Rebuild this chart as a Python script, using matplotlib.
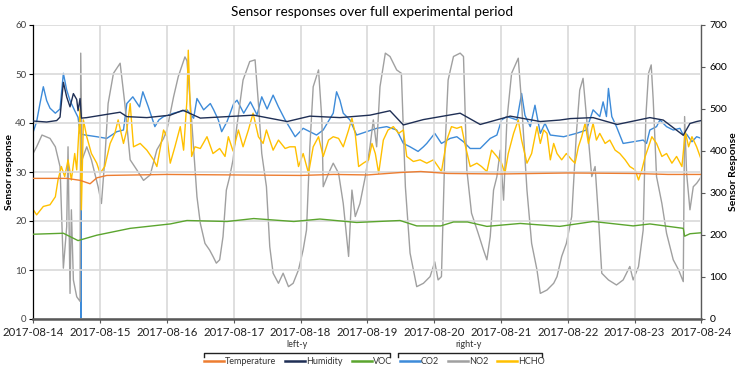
import matplotlib
matplotlib.use("Agg")
import matplotlib.pyplot as plt
import matplotlib.dates as mdates
from matplotlib.lines import Line2D
import numpy as np
import pandas as pd

plt.rcParams['font.family'] = ['Lato', 'DejaVu Sans']

START = pd.Timestamp("2017-08-14")

# ---------------- data (time in days since 2017-08-14) ----------------
temp_t = [0.0, 0.5, 0.7, 0.85, 0.95, 1.1, 2.0, 3.0, 4.0, 4.5, 5.0, 5.5, 5.8, 6.2, 7.0, 8.0, 9.0, 9.5, 10.0]
temp_v = [28.7, 28.7, 28.3, 27.6, 28.8, 29.3, 29.5, 29.4, 29.3, 29.5, 29.4, 29.9, 30.1, 29.7, 29.6, 29.8, 29.7, 29.5, 29.5]

hum_t = [0.0, 0.2, 0.35, 0.40, 0.45, 0.50, 0.55, 0.60, 0.65, 0.67, 0.70, 0.72, 0.80, 1.3, 1.4, 1.7, 2.05,
         2.24, 2.5, 3.3, 3.8, 4.14, 4.59, 5.04, 5.34, 5.54, 5.84, 6.39, 6.69, 7.14, 7.59, 7.88,
         8.04, 8.38, 8.74, 9.23, 9.43, 9.73, 9.83, 9.93, 10.0]
hum_v = [40.4, 40.2, 40.5, 41.2, 48.3, 45.3, 43.3, 46.0, 44.8, 42.5, 45.0, 41.0, 41.1, 42.2, 41.3, 41.1, 41.6,
         42.6, 41.0, 41.6, 40.3, 41.4, 41.1, 41.6, 42.5, 39.6, 40.7, 42.0, 39.7, 41.4, 40.3, 40.6,
         40.9, 41.1, 39.7, 41.1, 40.6, 37.5, 39.9, 40.3, 40.5]

voc_t = [0.0, 0.45, 0.67, 0.95, 1.45, 2.05, 2.3, 2.9, 3.3, 3.9, 4.29, 4.84, 5.49, 5.74, 6.1, 6.29, 6.5,
         6.79, 7.29, 7.88, 8.38, 8.98, 9.23, 9.73, 9.75, 9.83, 10.0]
voc_v = [17.3, 17.5, 16.0, 17.1, 18.5, 19.4, 20.1, 19.9, 20.5, 19.9, 20.4, 19.7, 20.1, 19.0, 19.0, 19.8, 19.8,
         18.9, 19.5, 18.9, 19.9, 19.0, 19.4, 18.5, 16.9, 17.4, 17.6]

co2_t = [0.0, 0.05, 0.10, 0.15, 0.20, 0.25, 0.33, 0.40, 0.45, 0.50, 0.55, 0.62, 0.67, 0.70, 0.714, 0.716, 0.718,
         0.78, 0.95, 1.10, 1.25, 1.35, 1.40, 1.49, 1.59, 1.64, 1.72, 1.82, 1.88, 1.95,
         2.10, 2.30, 2.40, 2.45, 2.55, 2.65, 2.70, 2.77, 2.82, 2.90, 3.00, 3.05, 3.15, 3.25, 3.35,
         3.42, 3.50, 3.59, 3.67, 3.77, 3.92, 4.04, 4.24, 4.34, 4.49, 4.54, 4.59, 4.64, 4.74, 4.84,
         4.99, 5.14, 5.29, 5.44, 5.54, 5.64, 5.76, 5.84, 5.89, 6.01, 6.11, 6.24, 6.34, 6.44, 6.54,
         6.69, 6.84, 6.94, 7.01, 7.09, 7.24, 7.31, 7.36, 7.44, 7.51, 7.59, 7.66, 7.74, 7.94, 8.13,
         8.28, 8.38, 8.48, 8.53, 8.58, 8.61, 8.66, 8.73, 8.83, 8.98, 9.13, 9.18, 9.23, 9.33, 9.38,
         9.48, 9.58, 9.68, 9.73, 9.78, 9.86, 9.93, 10.0]
co2_v = [446, 470, 513, 553, 520, 502, 490, 500, 585, 545, 520, 496, 480, 442, 440, 0, 440,
         438, 434, 430, 446, 450, 513, 529, 505, 541, 506, 458, 474, 482,
         490, 498, 478, 525, 498, 513, 498, 474, 446, 470, 513, 521, 490, 517, 486,
         529, 500, 533, 505, 474, 434, 454, 438, 450, 490, 541, 521, 490, 474, 438,
         446, 454, 458, 450, 418, 410, 399, 410, 418, 442, 418, 430, 434, 422, 406,
         406, 430, 438, 474, 482, 474, 537, 485, 458, 509, 442, 466, 438, 434, 442,
         450, 498, 482, 517, 482, 549, 482, 458, 418, 422, 426, 418, 450, 458, 474,
         458, 450, 454, 438, 440, 422, 434, 430]

no2_t = [0.0, 0.05, 0.13, 0.25, 0.33, 0.40, 0.45, 0.50, 0.52, 0.55, 0.57, 0.60, 0.65, 0.70, 0.71, 0.73,
         0.80, 0.87, 0.97, 1.02, 1.07, 1.12, 1.20, 1.30, 1.37, 1.45, 1.55, 1.65, 1.75, 1.85, 1.95,
         2.00, 2.10, 2.17, 2.27, 2.30, 2.37, 2.45, 2.50, 2.57, 2.64, 2.69, 2.74, 2.79, 2.84, 2.89,
         2.94, 2.99, 3.04, 3.14, 3.24, 3.32, 3.37, 3.42, 3.49, 3.54, 3.59, 3.67, 3.74, 3.82, 3.89,
         3.97, 4.04, 4.09, 4.14, 4.19, 4.27, 4.32, 4.34, 4.42, 4.49, 4.57, 4.64, 4.72, 4.77, 4.82,
         4.89, 4.97, 5.04, 5.09, 5.14, 5.19, 5.27, 5.34, 5.44, 5.51, 5.57, 5.64, 5.74, 5.84, 5.94,
         6.01, 6.06, 6.11, 6.16, 6.21, 6.29, 6.39, 6.44, 6.49, 6.56, 6.66, 6.74, 6.79, 6.84, 6.89,
         6.94, 6.99, 7.04, 7.09, 7.16, 7.26, 7.31, 7.39, 7.46, 7.54, 7.59, 7.69, 7.79, 7.84, 7.91,
         7.98, 8.06, 8.13, 8.18, 8.23, 8.28, 8.36, 8.41, 8.46, 8.51, 8.61, 8.73, 8.83, 8.93, 8.98,
         9.06, 9.13, 9.17, 9.21, 9.25, 9.28, 9.33, 9.41, 9.48, 9.58, 9.66, 9.73, 9.75, 9.78, 9.83,
         9.88, 9.93, 10.0]
no2_v = [395, 410, 438, 430, 410, 363, 121, 220, 410, 61, 260, 93, 53, 42, 633, 379,
         410, 379, 315, 275, 379, 513, 585, 609, 513, 379, 355, 330, 343, 403, 430,
         450, 529, 577, 624, 615, 474, 291, 228, 180, 164, 149, 133, 141, 196, 307,
         339, 379, 450, 569, 613, 617, 513, 394, 315, 172, 109, 85, 109, 77, 85,
         117, 165, 212, 410, 553, 593, 474, 315, 347, 371, 347, 275, 149, 307, 244,
         275, 339, 410, 474, 410, 553, 633, 625, 593, 585, 315, 157, 77, 85, 101,
         136, 93, 101, 394, 569, 625, 633, 625, 355, 252, 204, 164, 141, 196, 307,
         339, 402, 283, 474, 585, 621, 513, 307, 180, 117, 61, 69, 85, 101, 149,
         180, 244, 442, 545, 573, 482, 339, 363, 244, 109, 93, 81, 93, 125, 93,
         125, 212, 482, 585, 605, 522, 339, 275, 204, 141, 117, 89, 482, 347, 260,
         315, 323, 339]

hcho_t = [0.0, 0.05, 0.15, 0.25, 0.33, 0.37, 0.42, 0.47, 0.52, 0.57, 0.62, 0.65, 0.68, 0.70, 0.72, 0.75,
          0.80, 0.87, 0.95, 1.00, 1.07, 1.15, 1.22, 1.27, 1.35, 1.40, 1.45, 1.50, 1.60, 1.70, 1.80,
          1.85, 1.95, 2.00, 2.05, 2.12, 2.20, 2.25, 2.30, 2.32, 2.35, 2.37, 2.42, 2.50, 2.60, 2.69,
          2.79, 2.87, 2.92, 2.99, 3.07, 3.14, 3.22, 3.29, 3.37, 3.44, 3.49, 3.59, 3.67, 3.77, 3.84,
          3.92, 3.97, 4.04, 4.12, 4.19, 4.27, 4.34, 4.42, 4.49, 4.57, 4.64, 4.72, 4.77, 4.82, 4.87,
          4.94, 5.02, 5.07, 5.12, 5.17, 5.24, 5.31, 5.39, 5.47, 5.54, 5.59, 5.69, 5.79, 5.89, 5.99,
          6.06, 6.11, 6.19, 6.26, 6.34, 6.41, 6.46, 6.54, 6.64, 6.71, 6.79, 6.86, 6.94, 7.01, 7.06,
          7.11, 7.19, 7.26, 7.31, 7.39, 7.46, 7.54, 7.59, 7.64, 7.69, 7.74, 7.79, 7.84, 7.91, 7.98,
          8.06, 8.11, 8.16, 8.21, 8.26, 8.31, 8.38, 8.43, 8.48, 8.56, 8.63, 8.71, 8.78, 8.86, 8.93,
          9.01, 9.06, 9.11, 9.16, 9.21, 9.26, 9.33, 9.41, 9.48, 9.56, 9.63, 9.71, 9.76, 9.81, 9.86,
          9.93, 10.0]
hcho_v = [260, 248, 268, 272, 291, 331, 363, 339, 379, 331, 394, 355, 442, 500, 260, 474,
          434, 394, 371, 347, 363, 418, 442, 474, 418, 450, 513, 410, 418, 402, 379,
          363, 450, 434, 371, 410, 458, 402, 521, 640, 500, 387, 410, 406, 434, 394,
          406, 387, 434, 400, 450, 410, 450, 490, 434, 418, 450, 402, 426, 406, 410,
          410, 363, 394, 347, 410, 434, 387, 426, 434, 430, 410, 450, 478, 440, 363,
          371, 379, 418, 394, 347, 426, 450, 458, 442, 450, 387, 375, 379, 371, 379,
          363, 351, 426, 458, 454, 458, 418, 363, 371, 363, 351, 402, 387, 371, 347,
          394, 442, 474, 426, 371, 394, 458, 418, 450, 442, 379, 418, 394, 379, 394,
          379, 371, 410, 434, 466, 418, 466, 426, 442, 418, 426, 402, 394, 379, 363,
          355, 331, 355, 387, 410, 434, 418, 387, 394, 371, 387, 363, 446, 410, 434,
          410, 379]

left_series = [("Temperature", temp_t, temp_v, "#ED7D31"),
               ("Humidity", hum_t, hum_v, "#1F2F55"),
               ("VOC", voc_t, voc_v, "#5BA52E")]
right_series = [("CO2", co2_t, co2_v, "#3D8BD9"),
                ("NO2", no2_t, no2_v, "#A0A0A0"),
                ("HCHO", hcho_t, hcho_v, "#FFC000")]

title = "Sensor responses over full experimental period"
left_label = "Sensor response"
right_label = "Sensor Response"

def to_dates(t):
    return START + pd.to_timedelta(np.array(t), unit="D")

# ---------------- figure ----------------
W, H = 743, 369
fig = plt.figure(figsize=(W / 100, H / 100), dpi=100)
ax = fig.add_axes([33.3 / W, 1 - 319 / H, (701.3 - 33.3) / W, (319 - 25) / H])
ax2 = ax.twinx()

lw = 1.0
for name, t, v, c in right_series:
    ax2.plot(to_dates(t), v, color=c, lw=lw, zorder=2)
for name, t, v, c in left_series:
    ax.plot(to_dates(t), v, color=c, lw=lw, zorder=3)

ax.set_zorder(ax2.get_zorder() + 1)
ax.patch.set_visible(False)

x0 = START
x1 = START + pd.Timedelta(days=10)
ax.set_xlim(x0, x1)
ax.set_ylim(0, 60)
ax2.set_ylim(0, 700)
ax.set_yticks(range(0, 61, 10))
ax2.set_yticks(range(0, 701, 100))
ax.xaxis.set_major_locator(mdates.DayLocator())
ax.xaxis.set_major_formatter(mdates.DateFormatter("%Y-%m-%d"))

ax.grid(True, color="#D9D9D9", lw=1.2, zorder=0)
ax.set_axisbelow(True)

for a in (ax, ax2):
    a.spines['top'].set_visible(False)
ax.spines['right'].set_visible(False)
ax.spines['left'].set_color("#000000")
ax.spines['left'].set_linewidth(0.9)
ax.spines['bottom'].set_color("#595959")
ax.spines['bottom'].set_linewidth(1.8)
ax2.spines['left'].set_visible(False)
ax2.spines['bottom'].set_visible(False)
ax2.spines['right'].set_color("#595959")
ax2.spines['right'].set_linewidth(1.0)

ax.tick_params(axis='y', labelsize=7, colors="#000000", labelcolor="#444444", length=3, width=0.8, pad=2)
ax.tick_params(axis='x', labelsize=8.2, colors="#595959", labelcolor="#222222", length=3, width=0.8, pad=3)
ax2.tick_params(axis='y', labelsize=7.5, colors="#595959", labelcolor="#000000", length=3, width=0.8, pad=3)

ax.set_ylabel(left_label, fontsize=7.5, fontweight='bold')
ax2.set_ylabel(right_label, fontsize=7.5, fontweight='bold')
ax.yaxis.set_label_coords((14 - 33.3) / (701.3 - 33.3), 0.5)
ax2.yaxis.set_label_coords((729 - 33.3) / (701.3 - 33.3), 0.5)
fig.text(372 / W, 1 - 12 / H, title, ha='center', va='center', fontsize=9.8)

# ---------------- grouped legend ----------------
def fx(x): return x / W
def fy(y): return 1 - y / H

def bracket(xa, xb, y, label, xl):
    fig.add_artist(Line2D([fx(xa), fx(xa), fx(xb), fx(xb)], [fy(y + 4), fy(y), fy(y), fy(y + 4)],
                          color="#222222", lw=1.0, transform=fig.transFigure))
    fig.text(fx(xl), fy(y - 8), label, ha='center', va='center', fontsize=6.5, color="#333333")

bracket(204, 390, 352.5, "left-y", 297)
bracket(398, 542, 352.5, "right-y", 469)

entries = [(204, "Temperature", "#ED7D31"), (285, "Humidity", "#1F2F55"), (352, "VOC", "#5BA52E"),
           (400, "CO2", "#3D8BD9"), (448, "NO2", "#A0A0A0"), (497, "HCHO", "#FFC000")]
ly = 361
for xs, lab, c in entries:
    fig.add_artist(Line2D([fx(xs), fx(xs + 20)], [fy(ly), fy(ly)], color=c, lw=1.8,
                          transform=fig.transFigure))
    fig.text(fx(xs + 21), fy(ly), lab, ha='left', va='center', fontsize=6.5, color="#333333")

fig.savefig("out.png", dpi=100)
